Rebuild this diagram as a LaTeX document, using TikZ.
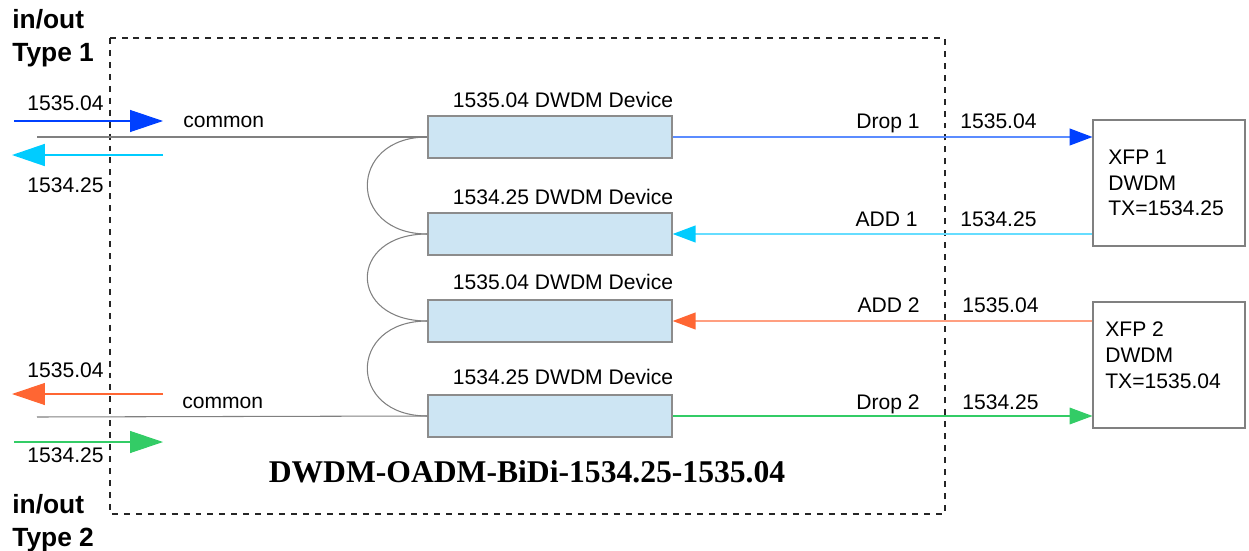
\documentclass[tikz,border=0pt]{standalone}
\usepackage{fontspec}
\setmainfont{Liberation Sans}
\newfontfamily\titlefont{Liberation Serif}
\usetikzlibrary{arrows.meta,positioning}

\definecolor{devfill}{HTML}{CDE5F3}
\definecolor{devline}{HTML}{8C8C8C}
\definecolor{fibergray}{HTML}{808080}
\definecolor{tipblue}{HTML}{0040FF}
\definecolor{lineblue}{HTML}{5B8CFF}
\definecolor{tipcyan}{HTML}{00CCFF}
\definecolor{linecyan}{HTML}{66DDFF}
\definecolor{tiporange}{HTML}{FF6633}
\definecolor{lineorange}{HTML}{FF9F80}
\definecolor{tipgreen}{HTML}{33CC66}

\begin{document}
\begin{tikzpicture}[x=0.02cm,y=-0.02cm,
    font=\fontsize{12}{14.7}\selectfont,
    device/.style={draw=devline,fill=devfill,line width=0.8pt,
      minimum width=4.88cm,minimum height=0.84cm,inner sep=0pt},
    xfpbox/.style={draw=fibergray,line width=0.6pt,
      minimum width=3.04cm,minimum height=2.52cm,inner sep=0pt},
    txt/.style={inner sep=0pt},
    fiber/.style={draw=fibergray,line width=0.6pt},
    bigtip/.style={-{Triangle[length=18.7pt,width=12.5pt,color=#1]}},
    smalltip/.style={-{Triangle[length=13pt,width=9.5pt,color=#1]}},
  ]
  \useasboundingbox (0,0) rectangle (1249,551);

  % Module outline
  \draw[draw=black!85,dash pattern=on 3.4pt off 3.4pt,line width=0.6pt] (110,38) rectangle (945,514);

  % DWDM devices
  \node[device] (d1) at (550,137) {};
  \node[device] (d2) at (550,234) {};
  \node[device] (d3) at (550,321) {};
  \node[device] (d4) at (550,416) {};
  \node[txt,anchor=base] at (563,107) {1535.04 DWDM Device};
  \node[txt,anchor=base] at (563,204) {1534.25 DWDM Device};
  \node[txt,anchor=base] at (563,289) {1535.04 DWDM Device};
  \node[txt,anchor=base] at (563,384) {1534.25 DWDM Device};

  % Fiber loops between devices
  \draw[fiber] (d1.west) .. controls +(-80,0) and +(-80,0) .. (d2.west);
  \draw[fiber] (d2.west) .. controls +(-80,0) and +(-80,0) .. (d3.west);
  \draw[fiber] (d3.west) .. controls +(-80,0) and +(-80,0) .. (d4.west);

  % XFP transceivers
  \node[xfpbox] (x1) at (1169,183) {};
  \node[xfpbox] (x2) at (1169,365) {};
  \node[txt,align=left,anchor=west] (t1) at (1108,183) {XFP 1\\DWDM\\TX=1534.25};
  \node[txt,align=left,anchor=west] (t2) at (1105,355) {XFP 2\\DWDM\\TX=1535.04};

  % Common port, type 1
  \coordinate (c1) at (37,137);
  \coordinate (inA) at (14,121);
  \coordinate (inB) at (163,121);
  \coordinate (outA) at (163,155);
  \coordinate (outB) at (12,155);
  \draw[fiber] (c1) -- (d1.west);
  \draw[draw=tipblue,line width=0.6pt,bigtip=tipblue] (inA) -- (inB);
  \draw[draw=tipcyan,line width=1pt,bigtip=tipcyan] (outA) -- (outB);
  \node[txt,anchor=base east] at (104,111) {1535.04};
  \node[txt,anchor=base west] at (183,127) {common};
  \node[txt,anchor=base east] at (104,192) {1534.25};

  % Common port, type 2
  \coordinate (c2) at (37,417);
  \coordinate (outC) at (163,394);
  \coordinate (outD) at (12,394);
  \coordinate (inC) at (14,442);
  \coordinate (inD) at (163,442);
  \draw[fiber] (c2) -- (d4.west);
  \draw[draw=tiporange,line width=0.6pt,bigtip=tiporange] (outC) -- (outD);
  \draw[draw=tipgreen,line width=0.6pt,bigtip=tipgreen] (inC) -- (inD);
  \node[txt,anchor=base east] at (104,377) {1535.04};
  \node[txt,anchor=base west] at (182,408) {common};
  \node[txt,anchor=base east] at (104,462) {1534.25};

  % Drop / add channels
  \draw[draw=lineblue,line width=1pt,smalltip=tipblue] (d1.east) -- (d1.east -| x1.west);
  \draw[draw=linecyan,line width=1pt,smalltip=tipcyan] (d2.east -| x1.west) -- (d2.east);
  \draw[draw=lineorange,line width=1pt,smalltip=tiporange] (d3.east -| x2.west) -- (d3.east);
  \draw[draw=tipgreen,line width=0.6pt,smalltip=tipgreen] (d4.east) -- (d4.east -| x2.west);
  \node[txt,anchor=base east] at (920,128) {Drop 1};
  \node[txt,anchor=base west] at (960,128) {1535.04};
  \node[txt,anchor=base east] at (918,226) {ADD 1};
  \node[txt,anchor=base west] at (960,226) {1534.25};
  \node[txt,anchor=base east] at (920,312) {ADD 2};
  \node[txt,anchor=base west] at (962,312) {1535.04};
  \node[txt,anchor=base east] at (920,409) {Drop 2};
  \node[txt,anchor=base west] at (962,409) {1534.25};

  % Title and port types
  \node[txt,font=\titlefont\bfseries\fontsize{18}{20}\selectfont] (title) at (527,472)
    {DWDM-OADM-BiDi-1534.25-1535.04};
  \node[txt,align=left,anchor=north west,font=\bfseries\fontsize{15}{18.7}\selectfont]
    (type1) at (12,9) {in/out\\Type 1};
  \node[txt,align=left,anchor=north west,font=\bfseries\fontsize{15}{18.7}\selectfont]
    (type2) at (12,494) {in/out\\Type 2};
\end{tikzpicture}
\end{document}
